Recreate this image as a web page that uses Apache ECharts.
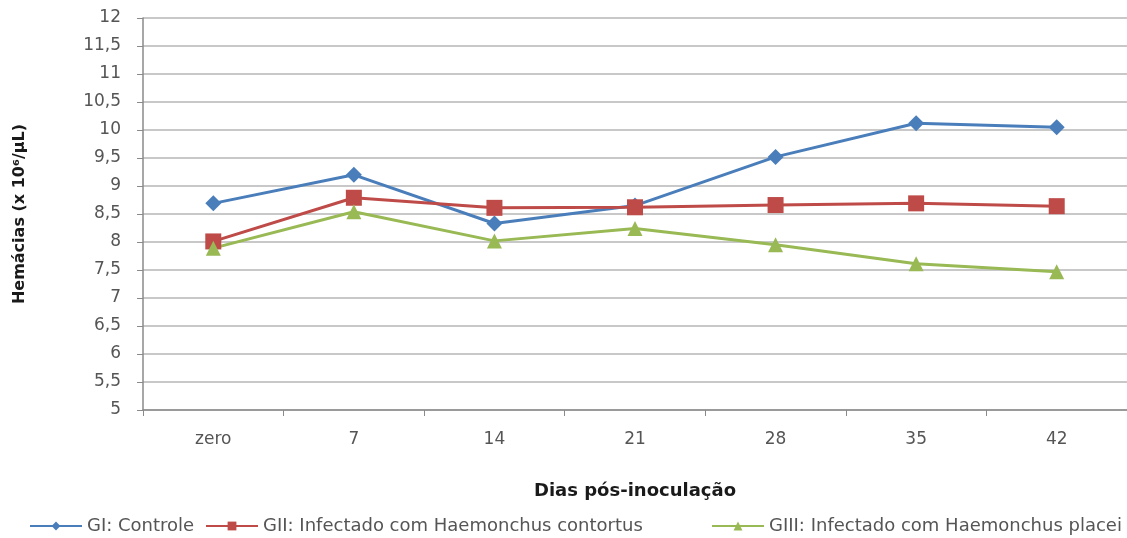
<!DOCTYPE html>
<html>
<head>
<meta charset="utf-8">
<script src="https://cdn.jsdelivr.net/npm/echarts@6/dist/echarts.min.js"></script>
<style>
  html, body { margin: 0; padding: 0; background: #fff; }
  #chart { width: 1127px; height: 538px; }
</style>
</head>
<body>
<div id="chart"></div>
<script>
// Dias pós-inoculação
const categories = ['zero', '7', '14', '21', '28', '35', '42'];

// Hemácias (x 10^6/µL) por grupo
const controle = [8.69, 9.20, 8.33, 8.65, 9.52, 10.12, 10.05];
const contortus = [8.01, 8.79, 8.61, 8.62, 8.66, 8.69, 8.64];
const placei = [7.89, 8.54, 8.02, 8.24, 7.95, 7.61, 7.47];

const seriesNames = [
  'GI: Controle',
  'GII: Infectado com Haemonchus contortus',
  'GIII: Infectado com Haemonchus placei'
];

const yMin = 5, yMax = 12, yStep = 0.5;

const font = 'DejaVu Sans, Verdana, sans-serif';
const chart = echarts.init(document.getElementById('chart'));

function lineSeries(name, data, color, symbol, size) {
  return {
    name: name,
    type: 'line',
    data: data,
    symbol: symbol,
    symbolSize: size,
    showSymbol: true,
    lineStyle: { color: color, width: 3 },
    itemStyle: { color: color },
    emphasis: { disabled: true },
    z: 3
  };
}

// one legend block per series so each entry sits at its own place on the row
function legendAt(left, name) {
  return {
    left: left,
    top: 512,
    itemWidth: 52,
    itemHeight: 11,
    textStyle: { fontFamily: font, fontSize: 18, color: '#555555' },
    data: [name]
  };
}

chart.setOption({
  animation: false,
  backgroundColor: '#ffffff',
  textStyle: { fontFamily: font },
  grid: { left: 143, top: 18, right: -10, bottom: 128 },
  xAxis: {
    type: 'category',
    data: categories,
    boundaryGap: true,
    name: 'Dias pós-inoculação',
    nameLocation: 'middle',
    nameGap: 72,
    nameTextStyle: { fontFamily: font, fontSize: 18, fontWeight: 'bold', color: '#1a1a1a' },
    axisLine: { lineStyle: { color: '#8a8a8a', width: 1.5 } },
    axisTick: { show: true, alignWithLabel: false, length: 6, lineStyle: { color: '#8a8a8a' } },
    axisLabel: { fontFamily: font, fontSize: 17, color: '#555555', margin: 21 },
    splitLine: { show: false }
  },
  yAxis: {
    type: 'value',
    min: yMin,
    max: yMax,
    interval: yStep,
    name: 'Hemácias (x 10⁶/µL)',
    nameLocation: 'middle',
    nameGap: 115,
    nameTextStyle: { fontFamily: font, fontSize: 16, fontWeight: 'bold', color: '#1a1a1a' },
    axisLine: { show: true, lineStyle: { color: '#8a8a8a', width: 1.5 } },
    axisTick: { show: true, length: 6, lineStyle: { color: '#8a8a8a' } },
    axisLabel: {
      fontFamily: font, fontSize: 17, color: '#555555', margin: 22,
      formatter: v => String(v).replace('.', ',')
    },
    splitLine: { show: true, lineStyle: { color: '#c8c8c8', width: 2 } }
  },
  legend: [
    legendAt(24, seriesNames[0]),
    legendAt(200, seriesNames[1]),
    legendAt(706, seriesNames[2])
  ],
  series: [
    lineSeries(seriesNames[0], controle, '#4a7ebb', 'diamond', 16),
    lineSeries(seriesNames[1], contortus, '#be4b48', 'rect', 16),
    lineSeries(seriesNames[2], placei, '#98b954', 'triangle', 15)
  ]
});
</script>
</body>
</html>
